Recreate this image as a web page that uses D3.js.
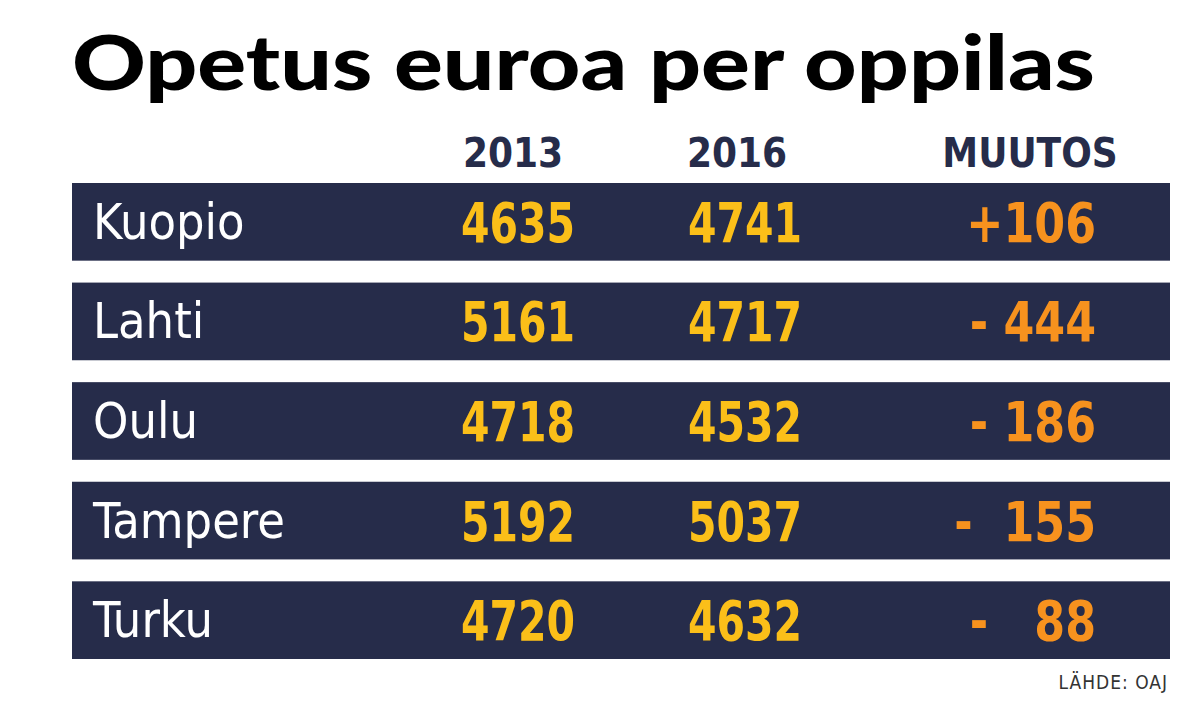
<!DOCTYPE html>
<html><head><meta charset="utf-8">
<script src="https://cdn.jsdelivr.net/npm/d3@7"></script>
<style>body{margin:0;background:#fff}</style>
</head><body>
<svg id="chart" width="1199" height="702"></svg>
<script>
const cities = ["Kuopio", "Lahti", "Oulu", "Tampere", "Turku"];
const values2013 = [4635, 5161, 4718, 5192, 4720];
const values2016 = [4741, 4717, 4532, 5037, 4632];
const changes = ["+106", "- 444", "- 186", "-  155", "-   88"];
const headers = ["2013", "2016", "MUUTOS"];

const svg = d3.select("#chart");
const narrow = "'Liberation Sans Narrow', 'DejaVu Sans Condensed', sans-serif";

svg.append("text")
  .attr("x", 72).attr("y", 90)
  .attr("textLength", 1023).attr("lengthAdjust", "spacingAndGlyphs")
  .style("font", "900 76px Lato, 'DejaVu Sans', sans-serif")
  .style("fill", "#000")
  .text("Opetus euroa per oppilas");

const y = d3.scaleBand().domain(cities).range([183, 659]).paddingInner(0.22);
const colX = d3.scaleOrdinal().domain(headers).range([513, 737, 1030]);

svg.selectAll("text.hdr").data(headers).enter().append("text")
  .attr("class", "hdr")
  .attr("x", d => colX(d)).attr("y", 167)
  .attr("text-anchor", "middle")
  .style("font", "bold 40px " + narrow).style("fill", "#262c4a")
  .text(d => d);

const rows = svg.selectAll("g.row").data(cities).enter().append("g")
  .attr("class", "row")
  .attr("transform", d => `translate(0,${y(d)})`);

rows.append("rect").attr("x", 72).attr("width", 1098)
  .attr("height", y.bandwidth()).attr("fill", "#262c4a");

const mid = y.bandwidth() / 2 + 17;
rows.append("text").attr("x", 93).attr("y", mid)
  .style("font", "50px " + narrow).style("fill", "#fff")
  .text(d => d);

const numStyle = s => s.style("font", "bold 56px " + narrow)
  .attr("lengthAdjust", "spacingAndGlyphs").attr("textLength", 114);

rows.append("text").attr("x", 518).attr("y", mid + 3).attr("text-anchor", "middle")
  .call(numStyle).style("fill", "#fbbf19")
  .text((d, i) => values2013[i]);

rows.append("text").attr("x", 745).attr("y", mid + 3).attr("text-anchor", "middle")
  .call(numStyle).style("fill", "#fbbf19")
  .text((d, i) => values2016[i]);

rows.append("text").attr("x", 1096).attr("y", mid + 3).attr("text-anchor", "end")
  .attr("xml:space", "preserve")
  .style("font", "bold 56px " + narrow).style("fill", "#f7921e")
  .attr("transform", "translate(1096,0) scale(0.88,1) translate(-1096,0)")
  .text((d, i) => changes[i]);

svg.append("text").attr("x", 1168).attr("y", 689).attr("text-anchor", "end")
  .style("font", "19px " + narrow).style("fill", "#333").style("letter-spacing", "1px")
  .text("LÄHDE: OAJ");
</script>
</body></html>
